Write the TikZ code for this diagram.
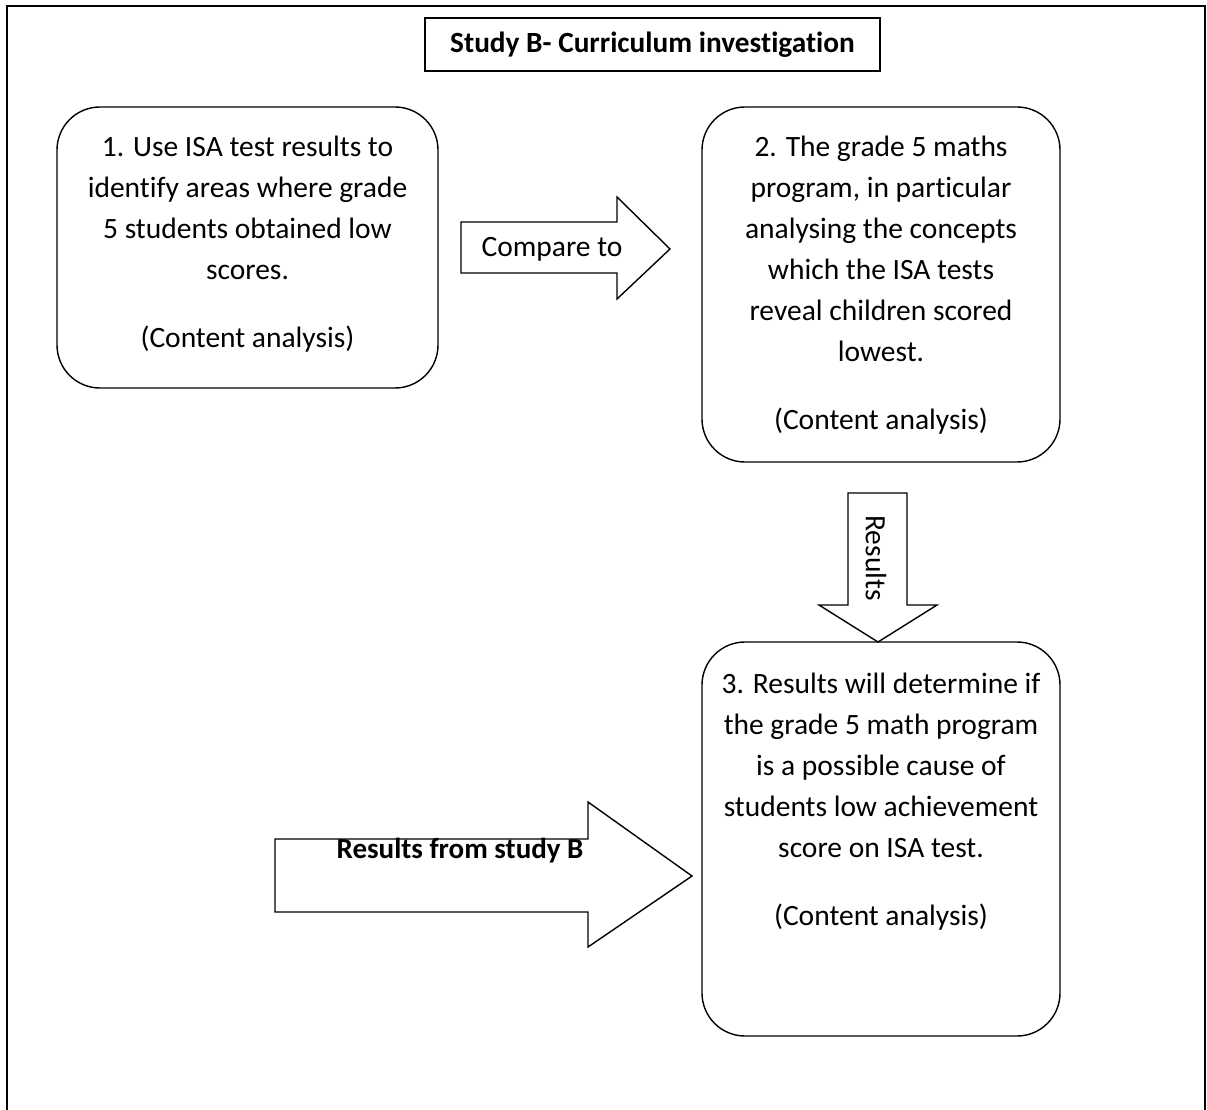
\documentclass[tikz,border=0pt]{standalone}
\usepackage{fontspec}
\setmainfont{Carlito}[RawFeature={-liga;-clig;-dlig}]
\begin{document}
\begin{tikzpicture}[x=1pt,y=-1pt,
  box/.style={draw, line width=1.4pt, rounded corners=43pt, inner sep=0pt},
  txt/.style={align=center, inner sep=0pt, font=\fontsize{29.5}{41}\selectfont},
  blockarrow/.style={draw, line width=1.4pt, fill=white, line join=miter},
  frame/.style={draw, line width=2pt}]
\useasboundingbox (0,0) rectangle (1207,1110);
% outer frame (bottom edge lies below the picture)
\draw[frame] (7,1120) -- (7,6) -- (1205,6) -- (1205,1120);
% title
\node[draw, line width=1.4pt, minimum width=455pt, minimum height=53pt, inner sep=0pt,
      font=\fontsize{29.3}{34}\selectfont\bfseries] (title) at (652.5,44.5) {Study B- Curriculum investigation};
% boxes
\node[box, minimum width=381pt, minimum height=281pt] (b1) at (247.5,247.5) {};
\node[box, minimum width=358pt, minimum height=355pt] (b2) at (881,284.5) {};
\node[box, minimum width=358pt, minimum height=394pt] (b3) at (881,839) {};
\node[txt] (t1) at (247.5,244) {1. Use ISA test results to\\identify areas where grade\\5 students obtained low\\scores.\\[27pt](Content analysis)};
\node[txt] (t2) at (881,285) {2. The grade 5 maths\\program, in particular\\analysing the concepts\\which the ISA tests\\reveal children scored\\lowest.\\[27pt](Content analysis)};
\node[txt] (t3) at (881,802) {3. Results will determine if\\the grade 5 math program\\is a possible cause of\\students low achievement\\score on ISA test.\\[27pt](Content analysis)};
% block arrow: Compare to
\draw[blockarrow] (461,222) -- (617,222) -- (617,197) -- (670,249) -- (617,299) -- (617,273) -- (461,273) -- cycle;
\node[txt, anchor=base] (cmp) at (552,256) {Compare to};
% block arrow: Results (down)
\draw[blockarrow] (848,493) -- (907,493) -- (907,605) -- (937,605) -- (878,642) -- (819,605) -- (848,605) -- cycle;
\node[txt, rotate=-90] (res) at (876,558) {Results};
% block arrow: Results from study B
\draw[blockarrow] (275,839) -- (588,839) -- (588,802) -- (692,876) -- (588,947) -- (588,912) -- (275,912) -- cycle;
\node[txt, anchor=base, font=\fontsize{29}{41}\selectfont\bfseries] (rsb) at (460,858) {Results from study B};
\end{tikzpicture}
\end{document}
